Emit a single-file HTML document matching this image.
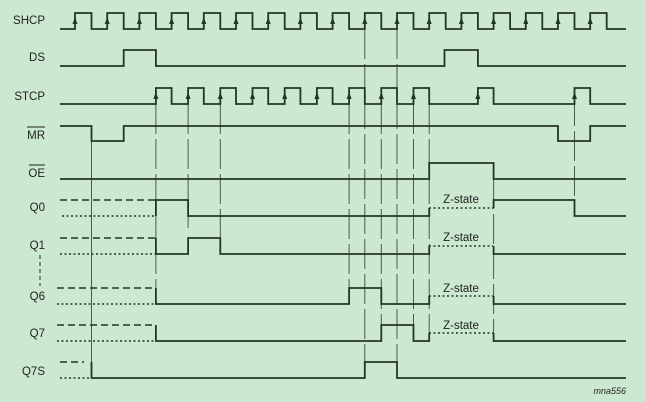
<!DOCTYPE html>
<html><head><meta charset="utf-8"><style>
html,body{margin:0;padding:0;background:#cce8d0;}
svg{display:block}
text{font-family:"Liberation Sans",sans-serif;font-size:11.5px;fill:#222}
</style></head><body>
<svg width="646" height="402" viewBox="0 0 646 402" xmlns="http://www.w3.org/2000/svg">
<rect width="646" height="402" fill="#cce8d0"/>
<g stroke="#4a5a4a" stroke-width="1" fill="none">
<line x1="91.5" y1="141" x2="91.5" y2="376"/>
<g stroke-dasharray="30,5">
<line x1="155.9" y1="104" x2="155.9" y2="300"/>
<line x1="188.1" y1="104" x2="188.1" y2="228"/>
<line x1="220.3" y1="104" x2="220.3" y2="240"/>
<line x1="349.1" y1="104" x2="349.1" y2="288"/>
<line x1="364.8" y1="29" x2="364.8" y2="362"/>
<line x1="381.3" y1="104" x2="381.3" y2="325"/>
<line x1="397" y1="29" x2="397" y2="362"/>
<line x1="413.5" y1="104" x2="413.5" y2="325"/>
<line x1="429.2" y1="104" x2="429.2" y2="333"/>
<line x1="493.6" y1="179" x2="493.6" y2="341"/>
<line x1="574.5" y1="96" x2="574.5" y2="212"/>
</g></g>
<g stroke="#253525" stroke-width="1.8" fill="none">
<path d="M60,29H75V13H91.5V29H107.2V13H123.7V29H139.4V13H155.9V29H171.6V13H188.1V29H203.8V13H220.3V29H236V13H252.5V29H268.2V13H284.7V29H300.4V13H316.9V29H332.6V13H349.1V29H364.8V13H381.3V29H397V13H413.5V29H429.2V13H445.7V29H461.4V13H477.9V29H493.6V13H510.1V29H525.8V13H542.3V29H558V13H574.5V29H590.2V13H606.7V29H626"/>
<path d="M60,66H123.7V50H155.9V66H444.5V50H477.9V66H626"/>
<path d="M60,104H155.9V88H171.6V104H188.1V88H203.8V104H220.3V88H236V104H252.5V88H268.2V104H284.7V88H300.4V104H316.9V88H332.6V104H349.1V88H364.8V104H381.3V88H397V104H413.5V88H429.2V104H477.9V88H493.6V104H574.5V88H590.2V104H626"/>
<path d="M60,126H91.5V141H123.7V126H558V141H590.2V126H626"/>
<path d="M60,179H429.2V163H493.6V179H626"/>
<path d="M155.9,216V200H188.1V216H429.2V208"/>
<path d="M493.6,208V200H574.5V216H626"/>
<path d="M155.9,238V254H188.1V238H220.3V254H429.2V246"/>
<path d="M493.6,246V254H626"/>
<path d="M155.9,288V304H349.1V288H381.3V304H429.2V296"/>
<path d="M493.6,296V304H626"/>
<path d="M155.9,325V341H381.3V325H413.5V341H429.2V333"/>
<path d="M493.6,333V341H626"/>
<path d="M91.5,362V378H364.8V362H397V378H626"/>
</g>
<g stroke="#253525" stroke-width="1.6" fill="none">
<g stroke-dasharray="7,4">
<line x1="60" y1="200" x2="155" y2="200"/>
<line x1="60" y1="238" x2="155" y2="238"/>
<line x1="57" y1="288" x2="155" y2="288"/>
<line x1="57" y1="325" x2="155" y2="325"/>
<line x1="60" y1="362" x2="84" y2="362"/>
</g>
<g stroke-dasharray="2,2.5">
<line x1="62" y1="216" x2="155" y2="216"/>
<line x1="60" y1="254" x2="155" y2="254"/>
<line x1="57" y1="304" x2="155" y2="304"/>
<line x1="57" y1="341" x2="155" y2="341"/>
<line x1="60" y1="378" x2="91" y2="378"/>
<line x1="429" y1="208" x2="493" y2="208"/>
<line x1="429" y1="246" x2="493" y2="246"/>
<line x1="429" y1="296" x2="493" y2="296"/>
<line x1="429" y1="333" x2="493" y2="333"/>
</g>
<line x1="40" y1="255" x2="40" y2="286" stroke-width="1" stroke-dasharray="4,3"/>
</g>
<g fill="#253525">
<polygon points="72.5,24 75,17 77.5,24"/><polygon points="104.7,24 107.2,17 109.7,24"/><polygon points="136.9,24 139.4,17 141.9,24"/><polygon points="169.1,24 171.6,17 174.1,24"/><polygon points="201.3,24 203.8,17 206.3,24"/><polygon points="233.5,24 236,17 238.5,24"/><polygon points="265.7,24 268.2,17 270.7,24"/><polygon points="297.9,24 300.4,17 302.9,24"/><polygon points="330.1,24 332.6,17 335.1,24"/><polygon points="362.3,24 364.8,17 367.3,24"/><polygon points="394.5,24 397,17 399.5,24"/><polygon points="426.7,24 429.2,17 431.7,24"/><polygon points="458.9,24 461.4,17 463.9,24"/><polygon points="491.1,24 493.6,17 496.1,24"/><polygon points="523.3,24 525.8,17 528.3,24"/><polygon points="555.5,24 558,17 560.5,24"/><polygon points="587.7,24 590.2,17 592.7,24"/>
<polygon points="153.4,99 155.9,92 158.4,99"/><polygon points="185.6,99 188.1,92 190.6,99"/><polygon points="217.8,99 220.3,92 222.8,99"/><polygon points="250,99 252.5,92 255,99"/><polygon points="282.2,99 284.7,92 287.2,99"/><polygon points="314.4,99 316.9,92 319.4,99"/><polygon points="346.6,99 349.1,92 351.6,99"/><polygon points="378.8,99 381.3,92 383.8,99"/><polygon points="411,99 413.5,92 416,99"/><polygon points="475.4,99 477.9,92 480.4,99"/><polygon points="572,99 574.5,92 577,99"/>
</g>
<g text-anchor="end">
<text x="45" y="24">SHCP</text>
<text x="45" y="61">DS</text>
<text x="45" y="100">STCP</text>
<text x="45" y="139">MR</text>
<text x="45" y="177">OE</text>
<text x="45" y="211">Q0</text>
<text x="45" y="249">Q1</text>
<text x="45" y="300">Q6</text>
<text x="45" y="337">Q7</text>
<text x="45" y="375">Q7S</text>
</g>
<g stroke="#222" stroke-width="1"><line x1="27" y1="127" x2="45" y2="127"/><line x1="29" y1="165" x2="45" y2="165"/></g>
<g text-anchor="middle">
<text x="461" y="203">Z-state</text>
<text x="461" y="241">Z-state</text>
<text x="461" y="292">Z-state</text>
<text x="461" y="329">Z-state</text>
</g>
<text x="626" y="394" text-anchor="end" font-style="italic" style="font-size:9px">mna556</text>
</svg>
</body></html>
